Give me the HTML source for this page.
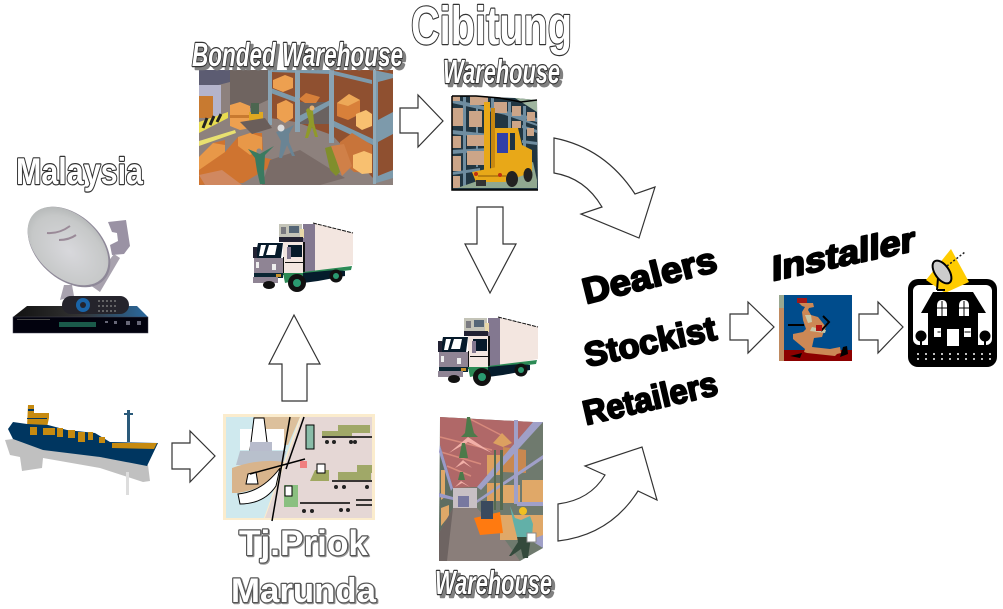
<!DOCTYPE html>
<html><head><meta charset="utf-8"><title>Distribution diagram</title>
<style>
html,body{margin:0;padding:0;background:#fff;width:1003px;height:609px;overflow:hidden}
svg{display:block}
text{font-family:"Liberation Sans",Arial,sans-serif;font-weight:bold}
.o{fill:#fff;stroke:#333;stroke-width:2.4;paint-order:stroke;stroke-linejoin:round}
.g{stroke:#555}
.s{filter:drop-shadow(3px 3px 0 #808080)}
.t{filter:drop-shadow(1px 1px 0 #999)}
.b{fill:#000;stroke:#000;stroke-width:2;stroke-linejoin:round}
.a{fill:#fff;stroke:#333;stroke-width:1.2;stroke-linejoin:miter}
</style></head><body>
<svg width="1003" height="609" viewBox="0 0 1003 609" xmlns="http://www.w3.org/2000/svg">
<defs>
<radialGradient id="dg" cx=".55" cy=".55" r=".7"><stop offset="0" stop-color="#d8d8dc"/><stop offset=".65" stop-color="#c6c8c8"/><stop offset="1" stop-color="#a4a8a8"/></radialGradient>
<linearGradient id="rg" x1="0" x2="1"><stop offset="0" stop-color="#111"/><stop offset=".5" stop-color="#333"/><stop offset="1" stop-color="#2a6aa0"/></linearGradient>
<g id="truck">
<polygon points="313,223 353,233 353,265 313,272" fill="#f3e6e0"/>
<polyline points="313,223 353,233" stroke="#111" stroke-width="1" stroke-dasharray="4 1" fill="none"/>
<rect x="303" y="224" width="12" height="48" fill="#837890"/>
<rect x="279" y="224" width="23" height="13" fill="#c4c4b8"/><rect x="281" y="227" width="5" height="7" fill="#7a7a80"/><rect x="289" y="226" width="10" height="7" fill="#556677"/>
<rect x="300" y="229" width="4" height="9" fill="#e8d8a8"/>
<rect x="279" y="237" width="24" height="5" fill="#223"/>
<rect x="283" y="242" width="21" height="33" fill="#f3e6e0"/>
<rect x="288" y="245" width="14" height="12" fill="#061a2a"/><rect x="287" y="247" width="4" height="12" fill="#837890"/>
<path d="M283 257h1v18h-1zM285 262h18v1h-18zM303 242h2v36h-2z" fill="#111"/>
<polygon points="258,243 283,243 281,258 255,258" fill="#061a2a"/>
<polygon points="261,245 266,245 263,256 259,256" fill="#fff"/><polygon points="269,245 277,245 275,255 266,255" fill="#fff"/>
<rect x="253" y="247" width="4" height="11" fill="#223"/>
<rect x="254" y="258" width="29" height="15" fill="#8f8494"/><rect x="256" y="262" width="3" height="6" fill="#eee"/><rect x="272" y="264" width="4" height="6" fill="#eee"/>
<rect x="254" y="273" width="29" height="5" fill="#0a2633"/><rect x="276" y="274" width="5" height="3" fill="#c8902a"/>
<rect x="253" y="277" width="25" height="6" fill="#8f8494"/>
<polygon points="283,273 303,273 303,272 352,266 351,270 318,274 318,281 305,281 303,279 285,283" fill="#2c8a55"/>
<polygon points="303,273 335,270 345,271 345,276 318,281 303,283" fill="#051c2c"/>
<ellipse cx="269" cy="285" rx="6" ry="4" fill="#111"/>
<circle cx="297" cy="283" r="9" fill="#111"/><circle cx="297" cy="283" r="4" fill="#2a9a70"/>
<circle cx="336" cy="276" r="6.500" fill="#111"/><circle cx="336" cy="276" r="3" fill="#2a9a70"/>
</g>
</defs>

<!-- Bonded warehouse -->
<g>
<rect x="199" y="70" width="194" height="115" fill="#8d817d"/>
<polygon points="199,70 230,70 230,82 199,90" fill="#5c5c72"/>
<polygon points="230,70 268,70 268,100 240,113 230,113" fill="#6f6460"/>
<rect x="199" y="85" width="22" height="32" fill="#b4b4cc"/><rect x="199" y="96" width="14" height="22" fill="#c87a30"/>
<polygon points="199,122 228,112 228,118 199,133" fill="#e8dc50"/><path d="M203 128l4-10M210 125l4-9M217 122l4-8" stroke="#222" stroke-width="3"/>
<polygon points="199,141 235,130 236,133 199,146" fill="#e8e070"/>
<polygon points="270,70 393,70 393,172 373,178 332,135 296,122 270,118" fill="#8f5030"/>
<rect x="296" y="102" width="34" height="22" fill="#6a6260"/>
<polygon points="268,87 295,97 295,102 268,92" fill="#7d9aab"/>
<polygon points="297,117 330,100 330,105 297,124" fill="#7d9aab"/>
<polygon points="272,70 330,70 372,80 372,84 330,74 272,72" fill="#7d9aab"/>
<polygon points="332,120 373,139 373,145 332,126" fill="#7d9aab"/>
<rect x="268" y="70" width="4" height="55" fill="#8aa4b4"/><rect x="295" y="70" width="5" height="62" fill="#8aa4b4"/><rect x="329" y="70" width="5" height="73" fill="#8aa4b4"/>
<polygon points="373,70 393,74 393,178 373,184" fill="#7d9aab"/><rect x="373" y="70" width="3" height="114" fill="#90aab8"/>
<polygon points="378,82 393,78 393,112 378,120" fill="#8f5030"/><polygon points="378,142 393,134 393,170 378,176" fill="#8f5030"/>
<polygon points="273,80 285,75 293,78 293,88 283,92 273,88" fill="#eda050"/>
<polygon points="277,104 286,100 293,104 293,118 285,123 277,118" fill="#eda050"/>
<polygon points="337,103 349,94 360,100 360,114 348,120 337,116" fill="#d8803a"/><polygon points="337,103 349,94 360,100 348,106" fill="#eda858"/>
<polygon points="356,114 366,110 372,114 372,126 362,130 356,126" fill="#f8c070"/>
<polygon points="340,142 352,133 372,145 372,173 354,172 340,160" fill="#c8743a"/><polygon points="353,155 364,151 372,154 372,173 362,174 353,168" fill="#f8c070"/>
<polygon points="299,99 306,93 320,97 316,103 305,103" fill="#d8803a"/>
<polygon points="230,105 240,102 250,106 250,128 240,130 230,126" fill="#eda050"/><polygon points="230,115 250,115 250,118 230,118" fill="#c87a30"/>
<rect x="249" y="112" width="14" height="11" fill="#e0a820"/><rect x="251" y="103" width="8" height="11" fill="#4c6650"/>
<polygon points="199,157 213,143 225,140 225,152 238,137 250,133 262,133 263,150 252,155 275,160 275,164 243,183 199,185" fill="#cf7430"/>
<polygon points="238,137 250,133 262,137 262,150 250,155 238,146" fill="#e89848"/><polygon points="199,157 213,143 225,145 225,152 199,170" fill="#e89848"/>
<polygon points="199,175 222,170 242,185 205,185" fill="#d08860"/>
<polygon points="270,160 300,150 345,178 320,185 262,185" fill="#7a6c68"/>
<polygon points="240,122 265,118 272,128 252,134" fill="#6a5e5a"/>
<path d="M248 149l12 5 5-3 9-5-9 9-1 16 1 13h-5l-3-13-2-13z" fill="#3a7a60"/><circle cx="259" cy="151" r="2.500" fill="#888"/>
<path d="M308 108l5 3 1 12 4 14h-3l-3-10-4 11h-3l4-16-3-12z" fill="#909a2a"/><circle cx="312" cy="108" r="2.500" fill="#e8b070"/>
<path d="M276 132l10-3 8-4-5 9 0 8 6 14h-3l-5-11-5 13h-3l2-17z" fill="#6a8494"/><circle cx="281" cy="128" r="3.500" fill="#ddd"/>
<polygon points="325,148 332,146 340,172 336,176 330,170" fill="#808e2c"/><polygon points="331,146 344,144 352,166 342,176" fill="#d08048"/>
</g>

<!-- Forklift warehouse -->
<g>
<polygon points="452,96 515,98 537,100 538,190 452,190" fill="#213642"/>
<polygon points="515,98 537,100 537,112" fill="#9fb59f"/>
<g fill="#6f8da0"><polygon points="452,99 537,118 537,122 452,103"/><polygon points="452,130 490,134 490,138 452,134"/><polygon points="452,150 488,148 488,151 452,154"/><polygon points="452,172 480,168 480,171 452,175"/><polygon points="505,112 537,124 537,126 505,115"/><rect x="463" y="97" width="3" height="90"/><rect x="476" y="97" width="2" height="70"/><rect x="491" y="98" width="3" height="40"/><rect x="508" y="102" width="3" height="34"/><rect x="523" y="106" width="3" height="52"/><polygon points="522,125 537,130 537,133 522,128"/><polygon points="522,140 537,142 537,145 522,143"/></g>
<g fill="#cca588"><rect x="452" y="108" width="11" height="18"/><rect x="469" y="111" width="13" height="16"/><rect x="452" y="136" width="9" height="12"/><rect x="467" y="135" width="18" height="11"/><rect x="452" y="156" width="9" height="15"/><rect x="467" y="151" width="17" height="14"/><rect x="453" y="176" width="7" height="12"/><rect x="452" y="96" width="8" height="5"/><rect x="470" y="96" width="18" height="9"/><rect x="494" y="102" width="13" height="11"/><rect x="512" y="106" width="9" height="10"/><rect x="527" y="112" width="8" height="9"/><rect x="512" y="121" width="9" height="7"/><rect x="527" y="128" width="7" height="8"/></g>
<polygon points="457,188 533,162 537,180 537,188" fill="#90a890"/>
<rect x="484" y="102" width="6" height="72" fill="#e8a818"/><rect x="491" y="108" width="4" height="62" fill="#c88810"/>
<polygon points="495,128 518,128 522,145 532,150 532,168 495,178" fill="#e8a818"/>
<rect x="497" y="133" width="11" height="20" fill="#3040a8"/><rect x="510" y="133" width="5" height="17" fill="#1e3444"/>
<polygon points="472,172 532,160 532,172 505,182 476,182" fill="#e8a818"/><path d="M478 176h28" stroke="#8a5808" stroke-width="1"/>
<circle cx="476" cy="174" r="2" fill="#c03010"/><circle cx="500" cy="175" r="2" fill="#c03010"/>
<rect x="476" y="180" width="10" height="6" fill="#333"/>
<ellipse cx="512" cy="179" rx="6" ry="8" fill="#222"/><ellipse cx="528" cy="175" rx="4.500" ry="7" fill="#222"/>
<path d="M452 96h24l24 2 21 4 16-2M452 96v94h86" fill="none" stroke="#000" stroke-width="1.500"/>
</g>

<!-- Dish -->
<g>
<polygon points="64,285 72,285 74,296 60,300" fill="#a8a2ae"/>
<polygon points="90,285 114,254 120,258 100,292" fill="#a8a2ae"/>
<polygon points="108,222 126,220 130,246 124,254 112,255 110,245 118,241 117,233 112,232" fill="#9a92a4"/>
<ellipse cx="69" cy="247" rx="48" ry="32" transform="rotate(43 69 247)" fill="#8e8898"/>
<ellipse cx="68" cy="246" rx="47" ry="31" transform="rotate(43 68 246)" fill="url(#dg)"/>
<path d="M47 233q12 1 23-7M59 240q10 0 17-5" stroke="#9a8a98" stroke-width="2" fill="none"/>
<polygon points="13,317 27,306 137,306 148,317" fill="url(#rg)"/>
<rect x="13" y="317" width="135" height="16" fill="#02020e" stroke="#445" stroke-width=".5"/>
<rect x="59" y="322" width="37" height="5" fill="#1a5a4a"/><rect x="17" y="319" width="33" height="1" fill="#444"/>
<g fill="#667"><rect x="105" y="321" width="3" height="2"/><rect x="114" y="321" width="3" height="3"/><rect x="126" y="321" width="4" height="4"/><rect x="137" y="321" width="4" height="4"/></g>
<rect x="62" y="296" width="67" height="18" rx="9" fill="#25242c"/>
<circle cx="83" cy="305" r="7" fill="#1a64a8"/><circle cx="83" cy="305" r="3" fill="#25242c"/>
<path d="M98 301h18M98 306h18M98 311h18" stroke="#777" stroke-width="1.500" stroke-dasharray="2 2"/>
</g>

<!-- Ship -->
<g>
<polygon points="5,440 10,455 20,457 22,471 42,468 43,458 100,468 143,482 150,481 148,465 100,457 13,439" fill="#c0c0c0"/>
<rect x="126" y="472" width="3" height="23" fill="#ddd"/>
<rect x="127" y="410" width="3" height="32" fill="#2a5a7a"/><rect x="124" y="413" width="9" height="2" fill="#2a5a7a"/>
<polygon points="28,405 34,405 34,413 49,413 49,418 47,427 27,427" fill="#c68a10"/>
<rect x="28" y="409" width="6" height="2" fill="#003660"/><rect x="27" y="418" width="20" height="1" fill="#003660"/>
<polygon points="8,429 13,422 27,424 48,425 67,430 95,433 110,442 158,443 147,466 100,457 43,450 13,439" fill="#003660"/>
<g fill="#c68a10"><rect x="30" y="427" width="7" height="8"/><rect x="43" y="428" width="12" height="7"/><rect x="57" y="428" width="6" height="9"/><rect x="68" y="430" width="7" height="8"/><rect x="78" y="432" width="7" height="10"/><rect x="88" y="432" width="5" height="8"/><rect x="99" y="437" width="6" height="6"/></g>
<polygon points="112,443 157,443 154,449 112,448" fill="#c68a10"/>
</g>

<!-- Port -->
<g>
<rect x="223" y="414" width="152" height="106" fill="#fbeccd"/>
<polygon points="226,417 300,417 264,518 226,518" fill="#cfe9ee"/>
<polygon points="302,417 372,417 372,518 265,518" fill="#e5d7d5"/>
<polygon points="254,417 300,417 288,445 254,445" fill="#dcc09c"/>
<rect x="240" y="429" width="44" height="21" fill="#fff"/><polygon points="254,418 264,418 268,450 250,450" fill="#fff" stroke="#000"/>
<rect x="250" y="442" width="22" height="10" fill="#b8bccc"/>
<path d="M240 451h46l-3 14h-47z" fill="#b8c0cc"/>
<path d="M232 468q28-10 52-6-6 24-46 31h-6z" fill="#d8b48c"/>
<path d="M238 494q24-2 42-26l-4 18q-12 18-36 18z" fill="#fff" stroke="#000"/>
<polygon points="248,474 256,472 258,484 246,484" fill="#fff" stroke="#000"/>
<path d="M250 474l55-15M290 417l-18 104M304 417l-18 52" stroke="#000" stroke-width="1.500"/>
<rect x="300" y="461" width="7" height="7" fill="#f08080"/>
<polygon points="329,481 310,481 315,470 329,470" fill="#a0a860"/><rect x="317" y="464" width="8" height="9" fill="#fff" stroke="#000"/>
<rect x="306" y="425" width="8" height="24" fill="#8abca8" stroke="#000"/>
<rect x="284" y="485" width="14" height="22" fill="#8ac080"/><rect x="285" y="486" width="7" height="10" fill="#fff" stroke="#000"/>
<g fill="#a0a868"><rect x="338" y="425" width="32" height="8"/><rect x="322" y="431" width="30" height="5"/><rect x="338" y="472" width="33" height="8"/><rect x="357" y="465" width="15" height="8"/></g>
<path d="M322 437h50M332 481h40M300 503h50M356 500h16M356 505h16" stroke="#000" stroke-width="1.500"/>
<g fill="#222"><circle cx="327" cy="442" r="2"/><circle cx="334" cy="442" r="2"/><circle cx="351" cy="442" r="2"/><circle cx="355" cy="442" r="2"/><circle cx="336" cy="487" r="2"/><circle cx="344" cy="487" r="2"/><circle cx="367" cy="487" r="2"/><circle cx="304" cy="511" r="2"/><circle cx="312" cy="511" r="2"/><circle cx="341" cy="510" r="2"/><circle cx="348" cy="510" r="2"/></g>
</g>

<!-- Warehouse 2 -->
<g>
<polygon points="440,417 533,422 543,422 543,548 520,561 439,561" fill="#6f7a6e"/>
<polygon points="440,417 533,422 477,487 453,488 440,445" fill="#b06868"/>
<path d="M440 437l52 13M441 452l40 12M447 466l24 10M470 419l33 17" stroke="#d88a7c" stroke-width="1.500"/>
<polygon points="440,445 453,488 453,508 439,533" fill="#5e6e62"/>
<polygon points="441,470 445,470 445,497 441,500" fill="#e0a868"/><polygon points="441,508 449,505 449,516 441,526" fill="#e0a868"/>
<polygon points="440,445 453,488 451,491 439,452" fill="#9a9ac8"/><polygon points="439,493 453,497 453,500 439,497" fill="#9a9ac8"/>
<rect x="453" y="488" width="24" height="20" fill="#c8c0c4"/><rect x="458" y="496" width="11" height="11" fill="#7878a0"/>
<polygon points="439,533 453,508 477,508 480,535 520,561 439,561" fill="#8a7e7a"/>
<polygon points="439,533 453,508 447,561 439,561" fill="#6e6462"/>
<polygon points="477,508 500,533 520,561 480,561 478,535" fill="#8a7e7a"/>
<rect x="522" y="480" width="21" height="22" fill="#e0a868"/><rect x="503" y="485" width="17" height="18" fill="#e0a868"/><rect x="487" y="483" width="15" height="18" fill="#dca060"/>
<polygon points="493,443 502,433 512,443 503,447" fill="#dca060"/>
<rect x="487" y="455" width="15" height="20" fill="#dca060"/>
<polygon points="503,447 526,450 526,473 503,472" fill="#c88850"/>
<rect x="514" y="420" width="4" height="58" fill="#a0a0c8"/><rect x="514" y="474" width="4" height="30" fill="#a0a0c8"/>
<polygon points="477,500 543,455 543,459 477,503" fill="#a0a0c8"/>
<polygon points="477,487 533,422 543,422 481,490" fill="#a0a0c8"/>
<rect x="517" y="502" width="26" height="4" fill="#a0a0c8"/>
<rect x="500" y="515" width="43" height="25" fill="#e0a868"/><polygon points="530,540 543,548 543,535" fill="#a0a0c8"/>
<rect x="494" y="450" width="2" height="60" fill="#556a50"/><rect x="500" y="450" width="3" height="60" fill="#556a50"/>
<polygon points="474,518 500,512 503,533 480,535" fill="#ff7a10"/>
<rect x="481" y="501" width="12" height="18" fill="#3a4a5e"/>
<path d="M510 506l5 12 6 2 9-4 3 8-1 13h-15l-4-16z" fill="#62b0a8"/>
<path d="M517 537l14 0-3 21h-5l-2-9-10 7h-2l9-14z" fill="#344a3c"/>
<circle cx="523" cy="511" r="4" fill="#f0c020"/><rect x="527" y="533" width="9" height="9" fill="#fff" stroke="#888"/>
<polygon points="467,417 470,417 474,433 478,437 461,437 465,433" fill="#4c7a4a"/><polygon points="468,437 449,453 468,442 492,453" fill="#f2b0a8"/>
<polygon points="462,443 465,443 468,458 459,458" fill="#4c7a4a"/><polygon points="463,460 455,468 464,463 472,468" fill="#f2b0a8"/>
<polygon points="460,472 463,472 465,480 458,480" fill="#4c7a4a"/><polygon points="461,481 455,487 462,483 470,487" fill="#f2b0a8"/>
</g>

<!-- trucks -->
<use href="#truck"/>
<use href="#truck" x="185" y="94"/>

<!-- Installer -->
<g>
<rect x="779" y="295" width="73" height="66" fill="#004c8c"/>
<rect x="779" y="295" width="5" height="13" fill="#9aa890"/><rect x="779" y="308" width="5" height="53" fill="#c08a60"/>
<rect x="784" y="350" width="68" height="11" fill="#8c0000"/>
<path d="M799 303h14l1 4-5 1-1 2 3 5 7 2 8 10-3 7-1 3-8 1-2 9 18 2 10-2 1 6-4 1-2 2-28-3-3-1 1-3-12-10 0-5 10-2 3-3-3-9-1-8 3-5-3-1z" fill="#cc8855"/>
<path d="M805 315h6l1 7-4 1zM812 327l14 3-1 3-15-2z" fill="#c8c8a8"/>
<rect x="788" y="324" width="16" height="2" fill="#000"/><path d="M823 316l6 6-8 9" stroke="#000" stroke-width="2" fill="none"/>
<rect x="816" y="325" width="6" height="6" fill="#b01010"/>
<rect x="797" y="298" width="10" height="5" fill="#a01818"/>
<polygon points="790,356 802,353 800,358" fill="#000"/><polygon points="843,347 847,346 848,354 840,357" fill="#000"/>
</g>

<!-- House -->
<g>
<rect x="908" y="279" width="89" height="88" rx="10" fill="#000"/>
<rect x="913" y="285" width="79" height="60" rx="6" fill="#fff"/>
<polygon points="926,280 951,249 969,282 945,293" fill="#fc0"/>
<polygon points="933,292 973,292 986,313 978,313 978,346 928,346 928,313 921,313" fill="#000"/>
<g fill="#fff"><path d="M937 316v-10q0-6 5-6t5 6v10z"/><path d="M959 316v-10q0-6 5-6t5 6v10z"/><rect x="934" y="328" width="7" height="9"/><rect x="964" y="328" width="7" height="9"/><rect x="947" y="329" width="12" height="17"/></g>
<path d="M942 301v15M937 308h10M964 301v15M959 308h10M937.500 332h3M964.500 332h6" stroke="#000"/>
<circle cx="921" cy="336" r="5.500" fill="#000"/><rect x="920" y="340" width="2" height="6"/><circle cx="985" cy="336" r="5.500" fill="#000"/><rect x="984" y="340" width="2" height="6"/>
<ellipse cx="942" cy="272" rx="7" ry="13" transform="rotate(-35 942 272)" fill="#ccc" stroke="#000" stroke-width="2"/>
<path d="M938 278l-1 12M937 290h8" stroke="#000" stroke-width="2"/><path d="M947 266l18-14" stroke="#222" stroke-width="1.500" stroke-dasharray="2 2"/>
<path d="M917 354h76M917 359h76" stroke="#fff" stroke-width="1.500" stroke-dasharray="2 6"/>
</g>

<!-- Block arrows -->
<polygon class="a" points="400,108 418,108 418,95 443,121 418,147 418,133 400,133"/>
<polygon class="a" points="477,207 503,207 503,244 516,244 490,293 465,244 477,244"/>
<polygon class="a" points="282,401 307,401 307,364 320,364 294,315 269,364 282,364"/>
<polygon class="a" points="172,443 190,443 190,431 215,456 190,482 190,469 172,469"/>
<polygon class="a" points="730,314 748,314 748,302 774,327 748,353 748,340 730,340"/>
<polygon class="a" points="859,314 878,314 878,302 903,327 878,353 878,340 859,340"/>
<path class="a" d="M554 138Q605 148 635 194L655 187 639 238 581 214 602 207Q585 178 554 173Z"/>
<path class="a" d="M558 504Q590 500 605 475L585 466 642 447 657 500 638 491Q610 535 558 541Z"/>

<!-- Labels -->
<text class="o" x="411" y="44" font-size="54" textLength="161" lengthAdjust="spacingAndGlyphs">Cibitung</text>
<text class="o" x="16" y="184" font-size="37" textLength="127" lengthAdjust="spacingAndGlyphs">Malaysia</text>
<text class="o g t" x="239" y="555" font-size="35" textLength="129" lengthAdjust="spacingAndGlyphs">Tj.Priok</text>
<text class="o g t" x="231" y="602" font-size="34" textLength="145" lengthAdjust="spacingAndGlyphs">Marunda</text>
<text class="o s" x="192" y="66" font-size="33" font-style="italic" textLength="211" lengthAdjust="spacingAndGlyphs">Bonded Warehouse</text>
<text class="o s" x="443" y="83" font-size="33" font-style="italic" textLength="117" lengthAdjust="spacingAndGlyphs">Warehouse</text>
<text class="o s" x="435" y="594" font-size="33" font-style="italic" textLength="117" lengthAdjust="spacingAndGlyphs">Warehouse</text>
<text class="b" transform="translate(586 304) rotate(-14)" font-size="36" textLength="137" lengthAdjust="spacingAndGlyphs">Dealers</text>
<text class="b" transform="translate(587 367) rotate(-12)" font-size="34" textLength="134" lengthAdjust="spacingAndGlyphs">Stockist</text>
<text class="b" transform="translate(586 425) rotate(-13)" font-size="34" textLength="137" lengthAdjust="spacingAndGlyphs">Retailers</text>
<text class="b" transform="translate(772 281) skewY(-12)" font-size="35" textLength="143" lengthAdjust="spacingAndGlyphs">Installer</text>
</svg>
</body></html>
